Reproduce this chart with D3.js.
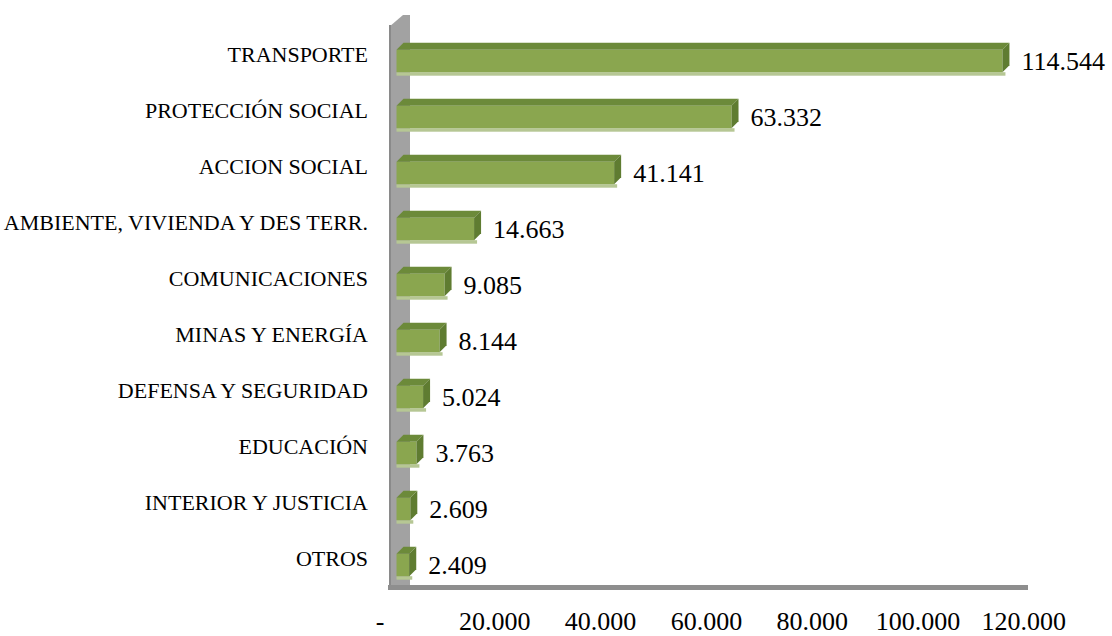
<!DOCTYPE html>
<html>
<head>
<meta charset="utf-8">
<script src="https://cdn.jsdelivr.net/npm/d3@7"></script>
<style>
  html, body { margin: 0; padding: 0; background: #ffffff; }
  svg { display: block; }
  text { font-family: "Liberation Serif", "Times New Roman", serif; fill: #000; }
</style>
</head>
<body>
<div id="chart"></div>
<script>
// Sector amounts, largest first (as in the reference, top to bottom).
const categories = [
  "TRANSPORTE",
  "PROTECCIÓN SOCIAL",
  "ACCION SOCIAL",
  "AMBIENTE, VIVIENDA Y DES TERR.",
  "COMUNICACIONES",
  "MINAS Y ENERGÍA",
  "DEFENSA Y SEGURIDAD",
  "EDUCACIÓN",
  "INTERIOR Y JUSTICIA",
  "OTROS",
];
const values = [114544, 63332, 41141, 14663, 9085, 8144, 5024, 3763, 2609, 2409];
const tickValues = [0, 20000, 40000, 60000, 80000, 100000, 120000];

const width = 1112;
const height = 636;
const depth = 7; // 3D offset of bar tops / sides

const colors = {
  front: "#8aa64f",
  top: "#6c8a3a",
  side: "#5f7c31",
  shadow: "#b6c794",
  wall: "#a2a2a2",
  wallEdge: "#8a8a8a",
  floor: "#8e8e8e",
};

const es = d3.formatLocale({ decimal: ",", thousands: ".", grouping: [3], currency: ["$", ""] });
const fmt = es.format(",d");
const fmtTick = (v) => (v === 0 ? "-" : fmt(v));

const x = d3.scaleLinear().domain([0, 120000]).range([396.5, 1031.3]);
const y = d3.scaleBand().domain(categories).range([33, 593])
  .paddingInner(0.6).paddingOuter(0.3);

const svg = d3.select("#chart").append("svg")
  .attr("width", width)
  .attr("height", height);

// ---- back wall + floor ----
svg.append("polygon")
  .attr("points", [[389, 27], [403, 15], [410, 15], [410, 588], [389, 590]].join(" "))
  .attr("fill", colors.wall);
svg.append("rect")
  .attr("x", 389).attr("y", 25).attr("width", 2).attr("height", 565)
  .attr("fill", colors.wallEdge);
svg.append("rect")
  .attr("x", 388).attr("y", 585).attr("width", 640).attr("height", 5)
  .attr("fill", colors.floor);

// ---- bars ----
const data = categories.map((name, i) => ({ name, value: values[i] }));
const bars = svg.append("g").selectAll("g")
  .data(data)
  .join("g");

bars.append("rect") // soft floor shadow under each bar
  .attr("x", x(0))
  .attr("y", (d) => y(d.name) + y.bandwidth())
  .attr("width", (d) => x(d.value) - x(0) + 3)
  .attr("height", 3.5)
  .attr("fill", colors.shadow);

bars.append("rect")
  .attr("x", x(0))
  .attr("y", (d) => y(d.name))
  .attr("width", (d) => x(d.value) - x(0))
  .attr("height", y.bandwidth())
  .attr("fill", colors.front);

bars.append("polygon")
  .attr("points", (d) => {
    const x0 = x(0), x1 = x(d.value), yt = y(d.name);
    return [[x0, yt], [x0 + depth, yt - depth], [x1 + depth, yt - depth], [x1, yt]].join(" ");
  })
  .attr("fill", colors.top);

bars.append("polygon")
  .attr("points", (d) => {
    const x1 = x(d.value), yt = y(d.name), yb = yt + y.bandwidth();
    return [[x1, yt], [x1 + depth, yt - depth], [x1 + depth, yb - depth], [x1, yb]].join(" ");
  })
  .attr("fill", colors.side);

// ---- value labels ----
bars.append("text")
  .attr("x", (d) => x(d.value) + depth + 12)
  .attr("y", (d) => y(d.name) + y.bandwidth() / 2 + 8.5)
  .style("font-size", "26px")
  .text((d) => fmt(d.value));

// ---- category labels ----
svg.append("g").selectAll("text")
  .data(categories)
  .join("text")
  .attr("x", 368)
  .attr("y", (d) => y(d) + y.bandwidth() / 2 + 0.5)
  .attr("text-anchor", "end")
  .style("font-size", "22px")
  .text((d) => d);

// ---- value axis tick labels ----
svg.append("g").selectAll("text")
  .data(tickValues)
  .join("text")
  .attr("x", (d) => (d === 0 ? x(d) - 16.5 : x(d) - 7.5))
  .attr("y", 630)
  .attr("text-anchor", "middle")
  .style("font-size", "26px")
  .text(fmtTick);
</script>
</body>
</html>
